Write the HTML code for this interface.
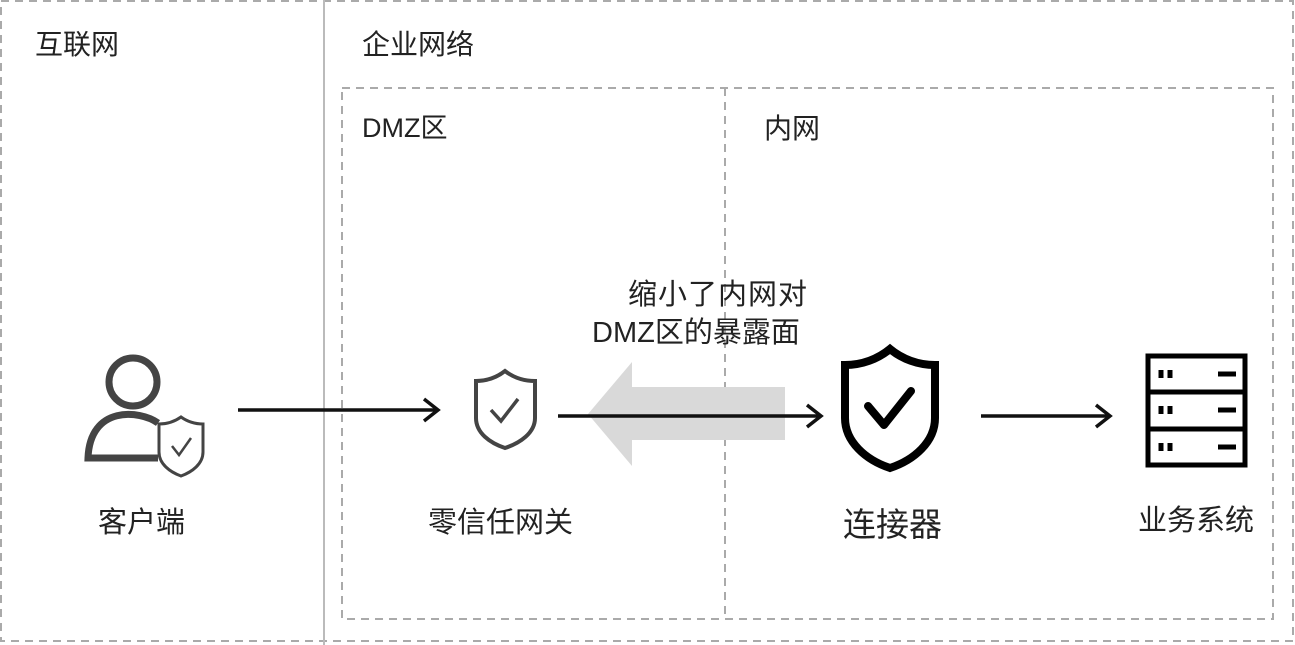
<!DOCTYPE html>
<html><head><meta charset="utf-8"><style>
body{margin:0;width:1295px;height:645px;background:#fff;overflow:hidden;font-family:"Liberation Sans","Noto Sans CJK SC",sans-serif;}
svg{position:absolute;left:0;top:0}
.t{position:absolute;font-size:28px;color:#222;white-space:nowrap;line-height:1}
</style></head><body>
<svg width="1295" height="645">
<rect x="1" y="1" width="1292" height="640" fill="none" stroke="#aaa" stroke-width="2" stroke-dasharray="8,6"/>
<line x1="324" y1="0" x2="324" y2="645" stroke="#bbb" stroke-width="2"/>
<rect x="342" y="88" width="931" height="531" fill="none" stroke="#aaa" stroke-width="2" stroke-dasharray="8,6"/>
<line x1="725" y1="88" x2="725" y2="619" stroke="#aaa" stroke-width="2" stroke-dasharray="8,6"/>
<polygon points="785,387 632,387 632,362 588,414 632,466 632,440 785,440" fill="#d9d9d9"/>
<g stroke="#111" stroke-width="3.5" fill="none">
<line x1="238" y1="410" x2="438" y2="410"/><polyline points="424,399 438,410 424,421"/>
<line x1="558" y1="416" x2="821" y2="416"/><polyline points="807,405 821,416 807,427"/>
<line x1="981" y1="416" x2="1110" y2="416"/><polyline points="1096,405 1110,416 1096,427"/>
</g>
<g stroke="#444" fill="none" stroke-width="7">
<circle cx="133" cy="382" r="24"/>
<path d="M158,423 C140,410 90,405 88,458 L158,458"/>
</g>
<path d="M181,417 C174,422 167,424 159,424 L159,452 C159,464 170,472 181,476 C192,472 203,464 203,452 L203,424 C195,424 188,422 181,417 Z" fill="#fff" stroke="#444" stroke-width="3"/>
<polyline points="172,446 179,455 191,438" fill="none" stroke="#444" stroke-width="2.5"/>
<path d="M505,371 C496,378 487,381 476,381 L476,418 C476,433 490,443 505,448 C520,443 535,433 535,418 L535,381 C524,381 514,378 505,371 Z" fill="none" stroke="#444" stroke-width="4"/>
<polyline points="491,410 501,421 518,399" fill="none" stroke="#444" stroke-width="3.5"/>
<path d="M890,349 C878,359 862,365 845,365 L845,418 C845,442 866,460 890,468 C914,460 935,442 935,418 L935,365 C918,365 902,359 890,349 Z" fill="none" stroke="#000" stroke-width="8"/>
<polyline points="868,406 884,425 911,391" fill="none" stroke="#000" stroke-width="8" stroke-linecap="round" stroke-linejoin="round"/>
<g stroke="#000" fill="none" stroke-width="5">
<rect x="1148" y="356" width="97" height="109"/>
<line x1="1148" y1="392" x2="1245" y2="392"/><line x1="1148" y1="429" x2="1245" y2="429"/>
</g>
<g stroke="#000" stroke-width="5">
<line x1="1161" y1="370" x2="1161" y2="378"/><line x1="1170" y1="370" x2="1170" y2="378"/><line x1="1218" y1="374" x2="1236" y2="374"/>
<line x1="1161" y1="406" x2="1161" y2="414"/><line x1="1170" y1="406" x2="1170" y2="414"/><line x1="1218" y1="410" x2="1236" y2="410"/>
<line x1="1161" y1="443" x2="1161" y2="451"/><line x1="1170" y1="443" x2="1170" y2="451"/><line x1="1218" y1="447" x2="1236" y2="447"/>
</g>
</svg>
<div class="t" style="left:35px;top:31px">互联网</div>
<div class="t" style="left:362px;top:31px">企业网络</div>
<div class="t" style="left:362px;top:115px;font-size:27px">DMZ区</div>
<div class="t" style="left:764px;top:115px">内网</div>
<div class="t" style="left:628px;top:281px;font-size:29px;letter-spacing:1px">缩小了内网对</div>
<div class="t" style="left:592px;top:319px;font-size:29px">DMZ区的暴露面</div>
<div class="t" style="left:98px;top:509px;font-size:29px">客户端</div>
<div class="t" style="left:428px;top:509px;font-size:29px">零信任网关</div>
<div class="t" style="left:843px;top:508px;font-size:33px">连接器</div>
<div class="t" style="left:1138px;top:507px;font-size:29px">业务系统</div>
</body></html>
